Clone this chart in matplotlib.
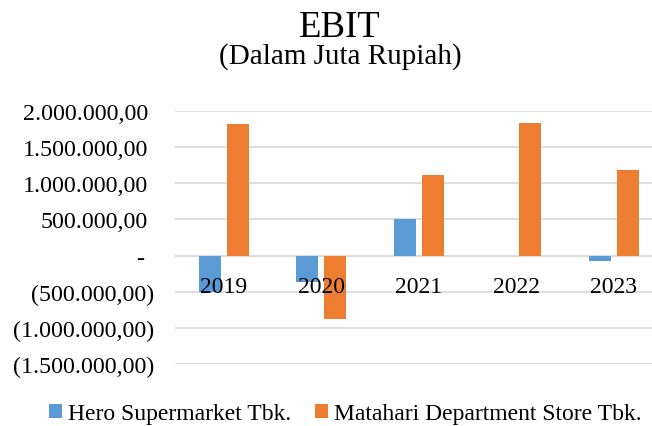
import matplotlib.pyplot as plt
import matplotlib.transforms as mtransforms
import numpy as np

# Data (dalam juta rupiah)
years = ['2019', '2020', '2021', '2022', '2023']
hero = [-510000, -365000, 508000, 0, -80000]
matahari = [1819000, -875000, 1115000, 1842000, 1180000]
y_ticks = [-1500000, -1000000, -500000, 0, 500000, 1000000, 1500000, 2000000]

blue = '#5B9BD5'
orange = '#ED7D31'
font = 'Liberation Serif'


def fmt(v):
    if v == 0:
        return '-'
    s = f'{abs(v):,.2f}'.replace(',', 'X').replace('.', ',').replace('X', '.')
    return f'({s})' if v < 0 else s


fig = plt.figure(figsize=(6.52, 4.27), dpi=100)
ax = fig.add_axes([175 / 652, 1 - 364.7 / 427, 477 / 652, (364.7 - 112.3) / 427])

x = np.arange(len(years))
w = 0.226
ax.bar(x - 0.144, hero, w, color=blue, label='Hero Supermarket Tbk.', zorder=3)
ax.bar(x + 0.144, matahari, w, color=orange, label='Matahari Department Store Tbk.', zorder=3)

ax.set_ylim(-1500000, 2000000)
ax.set_xlim(-0.5, 4.392)
ax.set_yticks(y_ticks)
ax.set_yticklabels([])
ax.tick_params(axis='y', length=0)
ax.set_xticks([])
ax.grid(axis='y', color='#D9D9D9', linewidth=1.2, zorder=0)
for s in ax.spines.values():
    s.set_visible(False)
ax.axhline(0, color='#D9D9D9', linewidth=1.2, zorder=1)

# label sumbu y gaya Excel: kurung penutup menjorok ke kanan
trans = mtransforms.blended_transform_factory(fig.transFigure, ax.transData)
for v in y_ticks:
    xr = 148 if v >= 0 else 154
    if v == 0:
        xr = 144
    ax.text(xr / 652, v, fmt(v), transform=trans, ha='right', va='center_baseline',
            fontfamily=font, fontsize=17.3)

# label tahun di dekat sumbu nol
for i, yr in enumerate(years):
    ax.text(i, -400000, yr, ha='center', va='center_baseline', fontfamily=font, fontsize=17, zorder=4)

fig.text(340 / 652, 1 - 37 / 427, 'EBIT', ha='center', va='baseline', fontfamily=font, fontsize=26.5)
fig.text(340 / 652, 1 - 64 / 427, '(Dalam Juta Rupiah)', ha='center', va='baseline', fontfamily=font, fontsize=21)

fig.legend(loc='center', bbox_to_anchor=(345 / 652, 1 - 415 / 427), ncol=2, frameon=False,
           prop={'family': font, 'size': 17}, handlelength=0.55, handleheight=0.55,
           handletextpad=0.25, columnspacing=1.0)

fig.savefig('out.png', dpi=100)
